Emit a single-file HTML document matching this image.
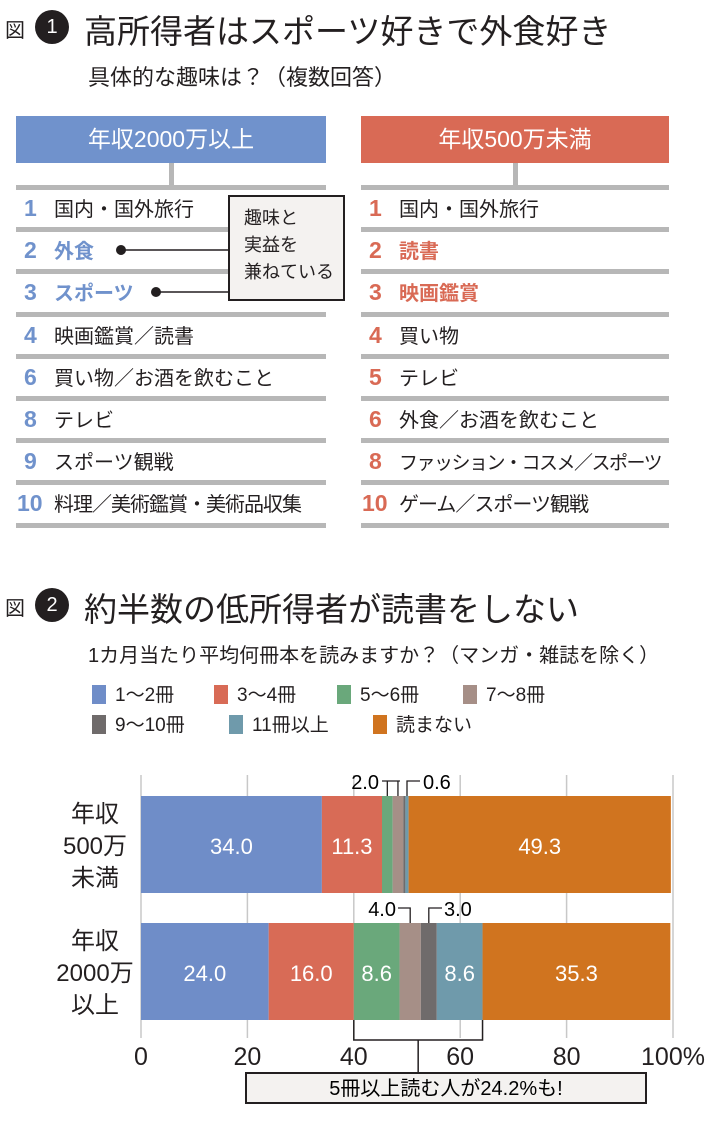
<!DOCTYPE html>
<html><head><meta charset="utf-8">
<style>
body{margin:0;background:#fff;font-family:"Liberation Sans","Noto Sans CJK JP",sans-serif;color:#231f20;}
#root{position:relative;width:710px;height:1133px;overflow:hidden;}
.abs{position:absolute;white-space:nowrap;}
.hdr{position:absolute;height:47px;color:#fff;font-size:23px;line-height:47px;text-align:center;}
.sep{position:absolute;height:5px;background:#b7b7b7;}
.row{position:absolute;font-size:20px;line-height:24px;}
.num{display:inline-block;width:36px;font-weight:bold;font-size:23px;}
.circ{position:absolute;width:34px;height:34px;border-radius:50%;background:#231f20;color:#fff;text-align:center;line-height:34px;font-size:20px;}
</style></head><body>
<div id="root">
<div class="abs" style="left:5px;top:14px;font-size:20px">図</div>
<div class="circ" style="left:35px;top:10px">1</div>
<div class="abs" style="left:84px;top:5px;font-size:33px">高所得者はスポーツ好きで外食好き</div>
<div class="abs" style="left:88px;top:60px;font-size:22px">具体的な趣味は？（複数回答）</div>

<div class="hdr" style="left:16px;width:310px;top:116px;background:#7092cc">年収2000万以上</div>
<div class="hdr" style="left:361px;width:308px;top:116px;background:#d96a55">年収500万未満</div>
<div class="abs" style="left:169px;top:163px;width:5px;height:24px;background:#b7b7b7"></div>
<div class="abs" style="left:513px;top:163px;width:5px;height:24px;background:#b7b7b7"></div>
<div id="lists"></div>

<div class="abs" style="left:228px;top:195px;width:117px;height:106px;border:2px solid #231f20;background:#f4f2f0;font-size:18px;line-height:27px;padding:8px 0 0 14px;box-sizing:border-box">趣味と<br>実益を<br>兼ねている</div>
<svg class="abs" style="left:0;top:0" width="710" height="560">
<circle cx="121" cy="250" r="5" fill="#231f20"/><line x1="121" y1="250" x2="228" y2="250" stroke="#231f20" stroke-width="1.5"/>
<circle cx="156" cy="292" r="5" fill="#231f20"/><line x1="156" y1="292" x2="228" y2="292" stroke="#231f20" stroke-width="1.5"/>
</svg>

<div class="abs" style="left:5px;top:592px;font-size:20px">図</div>
<div class="circ" style="left:35px;top:588px">2</div>
<div class="abs" style="left:84px;top:583px;font-size:33px">約半数の低所得者が読書をしない</div>
<div class="abs" style="left:88px;top:639px;font-size:20px">1カ月当たり平均何冊本を読みますか？（マンガ・雑誌を除く）</div>
<div id="legend"></div>
<svg id="chart" class="abs" style="left:0;top:740px" width="710" height="393"></svg>
</div>
<script>
const leftRanks=["1","2","3","4","6","8","9","10"];
const leftItems=["国内・国外旅行","外食","スポーツ","映画鑑賞／読書","買い物／お酒を飲むこと","テレビ","スポーツ観戦","料理／美術鑑賞・美術品収集"];
const rightRanks=["1","2","3","4","5","6","8","10"];
const rightItems=["国内・国外旅行","読書","映画鑑賞","買い物","テレビ","外食／お酒を飲むこと","ファッション・コスメ／スポーツ","ゲーム／スポーツ観戦"];
const lists=document.getElementById('lists');
function buildList(x,w,ranks,items,col,side){
  for(let i=0;i<=ranks.length;i++){
    const s=document.createElement('div');s.className='sep';
    
    
    s.style.left=x+'px';s.style.width=w+'px';s.style.top=(185+i*42.2)+'px';lists.appendChild(s);
  }
  ranks.forEach((r,i)=>{
    const d=document.createElement('div');d.className='row';
    
    
    d.style.left=(x+(r.length>1?1:8))+'px';d.style.top=(196+i*42.2)+'px';
    const bold=i>0&&i<3;
    const nw=r.length>1?'37px':'30px';
    d.innerHTML='<span class="num" style="color:'+col+';width:'+nw+'">'+r+'</span><span style="'+(bold?'color:'+col+';font-weight:bold':'')+(i==7?';letter-spacing:-1px':'')+(side=='right'&&i==6?';letter-spacing:-1.5px;font-size:19px':'')+'">'+items[i]+'</span>';
    lists.appendChild(d);
  });
}
buildList(16,310,leftRanks,leftItems,'#7092cc','left');
buildList(361,308,rightRanks,rightItems,'#d96a55','right');

const catNames=["1〜2冊","3〜4冊","5〜6冊","7〜8冊","9〜10冊","11冊以上","読まない"];
const colors=["#6f8dc8","#d86b56","#6aa87b","#a68f87","#6f6b6b","#6f9aab","#d0741f"];
const groups=["年収500万未満","年収2000万以上"];
const low=[34.0,11.3,2.0,2.0,0.4,0.6,49.3];
const high=[24.0,16.0,8.6,4.0,3.0,8.6,35.3];
const ticks=[0,20,40,60,80,100];
const legendX=[92,214,337,463,92,229,373];
const lg=document.getElementById('legend');
catNames.forEach((n,i)=>{
  const d=document.createElement('div');d.className='abs';
  
  
  d.style.left=legendX[i]+'px';d.style.top=(i<4?680:710)+'px';d.style.fontSize='19px';
  d.innerHTML='<span style="display:inline-block;width:14px;height:19px;background:'+colors[i]+';vertical-align:-3px;margin-right:9px"></span>'+n;
  lg.appendChild(d);
});
const svg=document.getElementById('chart');const NS='http://www.w3.org/2000/svg';
const X=v=>141+v*5.32; const OY=740;
function el(t,a,name){const e=document.createElementNS(NS,t);for(const k in a)e.setAttribute(k,a[k]);
  
  
  svg.appendChild(e);return e;}
ticks.forEach(t=>{el('line',{x1:X(t),x2:X(t),y1:775-OY,y2:1038-OY,stroke:'#c8c8c8','stroke-width':1.5},'gridline');
  const tx=el('text',{x:X(t),y:1065-OY,'font-size':25,'text-anchor':'middle',fill:'#231f20'},'x-tick-label');tx.textContent=t+(t==100?'%':'');});
const rows=[{vals:low,y:796},{vals:high,y:923}];
const labs=[["年収","500万","未満"],["年収","2000万","以上"]];
rows.forEach((r,ri)=>{
  let c=0;
  r.vals.forEach((v,i)=>{
    el('rect',{x:X(c),y:r.y-OY,width:X(c+v)-X(c),height:97,fill:colors[i]},'bar-'+(ri?'high':'low')+'-'+i);
    if(v>=5){const t=el('text',{x:(X(c)+X(c+v))/2,y:r.y-OY+58,'font-size':22,'text-anchor':'middle',fill:'#fff'},'bar-value');t.textContent=v.toFixed(1);}
    c+=v;});
  labs[ri].forEach((s,k)=>{const t=el('text',{x:95,y:r.y-OY+26+k*32,'font-size':24,'text-anchor':'middle',fill:'#231f20'},'y-category-label');t.textContent=s;});
});
function cum(a,i){let s=0;for(let k=0;k<i;k++)s+=a[k];return s;}
const mid=(a,i)=>X(cum(a,i)+a[i]/2);
const ly=781-OY;
let g=mid(low,2),tp=mid(low,3),tl=mid(low,5);
el('path',{d:`M382 ${ly} H${tp+2} M${g} ${ly} V${796-OY} M${tp} ${ly} V${796-OY} M${tl} ${796-OY} V${ly} H${420}`,fill:'none',stroke:'#231f20','stroke-width':1.3},'annotation-leader');
let t1=el('text',{x:379,y:ly+8,'font-size':20,'text-anchor':'end'},'annotation-label');t1.textContent=low[2].toFixed(1);
let t2=el('text',{x:423,y:ly+8,'font-size':20},'annotation-label');t2.textContent=low[5].toFixed(1);
const ly2=908-OY;
let b4=mid(high,3),b3=mid(high,4);
el('path',{d:`M398 ${ly2} H${b4} V${923-OY} M${b3} ${923-OY} V${ly2} H${442}`,fill:'none',stroke:'#231f20','stroke-width':1.3},'annotation-leader');
let t3=el('text',{x:396,y:ly2+8,'font-size':20,'text-anchor':'end'},'annotation-label');t3.textContent=high[3].toFixed(1);
let t4=el('text',{x:444,y:ly2+8,'font-size':20},'annotation-label');t4.textContent=high[4].toFixed(1);
const bx1=X(cum(high,2)),bx2=X(cum(high,6));
el('path',{d:`M${bx1} ${1020-OY} V${1040-OY} H${bx2} V${1020-OY} M${(bx1+bx2)/2} ${1040-OY} V${1073-OY}`,fill:'none',stroke:'#231f20','stroke-width':1.5},'bracket');
el('rect',{x:246,y:1073-OY,width:400,height:30,fill:'#f4f2f0',stroke:'#231f20','stroke-width':2},'note-box');
const nt=el('text',{x:446,y:1095-OY,'font-size':20,'text-anchor':'middle'},'note-text');nt.textContent='5冊以上読む人が24.2%も!';
</script>
</body></html>
